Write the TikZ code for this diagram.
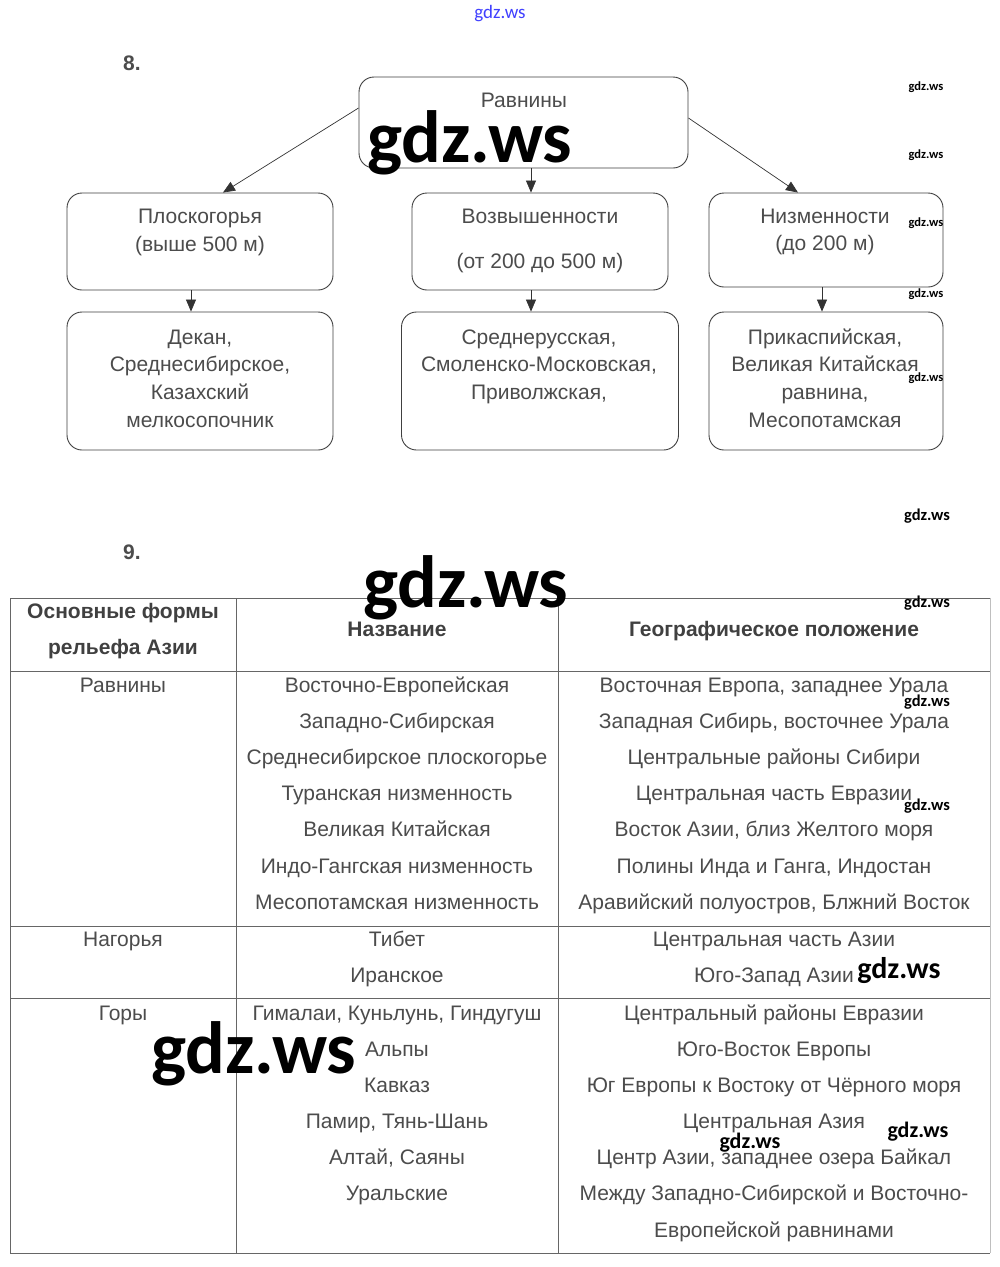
\documentclass[tikz,border=0pt]{standalone}
\usepackage{fontspec}
\setmainfont{Liberation Sans}
\newfontfamily\wmfont{Carlito}
\usetikzlibrary{arrows.meta}
\begin{document}
\begin{tikzpicture}[x=1pt,y=-1pt,
  box/.style={draw=black!75, line width=0.9pt, rounded corners=15pt, inner sep=0pt},
  arr/.style={draw=black!80, line width=0.7pt, -{Triangle[length=12pt,width=10pt]}},
  txt/.style={anchor=base, font=\fontsize{21}{25}\selectfont, text=black!70, inner sep=0pt},
  hdr/.style={anchor=base, font=\bfseries\fontsize{21}{25}\selectfont, text=black!75, inner sep=0pt},
  tline/.style={draw=black!60, line width=1pt},
  wm/.style={anchor=base, inner sep=0pt, text=black, font=\wmfont\bfseries\fontsize{#1}{#1}\selectfont},
]
\useasboundingbox[fill=white] (0,0) rectangle (1000,1267);

% numbers
\node[hdr, text=black!70] (n8) at (132,70) {8.};
\node[hdr, text=black!70] (n9) at (132,559) {9.};

% flowchart boxes
\node[box, minimum width=329pt, minimum height=91pt] (rav) at (523.5,122.5) {};
\node[box, minimum width=266pt, minimum height=97pt] (plo) at (200,241.5) {};
\node[box, minimum width=256pt, minimum height=97pt] (vozv) at (540,241.5) {};
\node[box, minimum width=234pt, minimum height=94pt] (nizm) at (826,240) {};
\node[box, minimum width=266pt, minimum height=138pt] (dek) at (200,381) {};
\node[box, minimum width=277pt, minimum height=138pt] (sred) at (540,381) {};
\node[box, minimum width=234pt, minimum height=138pt] (prik) at (826,381) {};

% arrows
\draw[arr] ([yshift=14.5pt]rav.west) -- ([xshift=23pt]plo.north);
\draw[arr] ([xshift=7.5pt]rav.south) -- ([xshift=-9pt]vozv.north);
\draw[arr] ([yshift=4.5pt]rav.east) -- ([xshift=-28pt]nizm.north);
\draw[arr] ([xshift=-9pt]plo.south) -- ([xshift=-9pt]dek.north);
\draw[arr] ([xshift=-9pt]vozv.south) -- ([xshift=-9pt]sred.north);
\draw[arr] ([xshift=-4pt]nizm.south) -- ([xshift=-4pt]prik.north);

% flowchart texts
\node[txt] (trav) at (524,107) {Равнины};
\node[txt] (tplo1) at (200,223) {Плоскогорья};
\node[txt] (tplo2) at (200,251) {(выше 500 м)};
\node[txt] (tvoz1) at (540,223) {Возвышенности};
\node[txt] (tvoz2) at (540,268) {(от 200 до 500 м)};
\node[txt] (tniz1) at (825,223) {Низменности};
\node[txt] (tniz2) at (825,250) {(до 200 м)};
\node[txt] (tdek1) at (200,344) {Декан,};
\node[txt] (tdek2) at (200,371) {Среднесибирское,};
\node[txt] (tdek3) at (200,399) {Казахский};
\node[txt] (tdek4) at (200,427) {мелкосопочник};
\node[txt] (tsr1) at (539,344) {Среднерусская,};
\node[txt] (tsr2) at (539,371) {Смоленско-Московская,};
\node[txt] (tsr3) at (539,399) {Приволжская,};
\node[txt] (tpr1) at (825,344) {Прикаспийская,};
\node[txt] (tpr2) at (825,371) {Великая Китайская};
\node[txt] (tpr3) at (825,399) {равнина,};
\node[txt] (tpr4) at (825,427) {Месопотамская};

% table lines
\draw[tline] (10,598) -- (990,598);
\draw[tline] (10,671) -- (990,671);
\draw[tline] (10,926) -- (990,926);
\draw[tline] (10,998) -- (990,998);
\draw[tline] (10,1253) -- (990,1253);
\draw[tline] (10,598) -- (10,1253);
\draw[tline] (236,598) -- (236,1253);
\draw[tline] (558,598) -- (558,1253);
\draw[draw=black!25, line width=1pt] (990,598) -- (990,1253);

% table header
\node[hdr] (h1a) at (123,618) {Основные формы};
\node[hdr] (h1b) at (123,654) {рельефа Азии};
\node[hdr] (h2) at (397,636) {Название};
\node[hdr] (h3) at (774,636) {Географическое положение};

% rows
\node[txt] (r1a) at (123,692) {Равнины};
\node[txt] (r1b) at (397,692) {Восточно-Европейская};
\node[txt] (r1c) at (774,692) {Восточная Европа, западнее Урала};
\node[txt] (r2b) at (397,728) {Западно-Сибирская};
\node[txt] (r2c) at (774,728) {Западная Сибирь, восточнее Урала};
\node[txt] (r3b) at (397,764) {Среднесибирское плоскогорье};
\node[txt] (r3c) at (774,764) {Центральные районы Сибири};
\node[txt] (r4b) at (397,800) {Туранская низменность};
\node[txt] (r4c) at (774,800) {Центральная часть Евразии};
\node[txt] (r5b) at (397,836) {Великая Китайская};
\node[txt] (r5c) at (774,836) {Восток Азии, близ Желтого моря};
\node[txt] (r6b) at (397,873) {Индо-Гангская низменность};
\node[txt] (r6c) at (774,873) {Полины Инда и Ганга, Индостан};
\node[txt] (r7b) at (397,909) {Месопотамская низменность};
\node[txt] (r7c) at (774,909) {Аравийский полуостров, Блжний Восток};

\node[txt] (s1a) at (123,946) {Нагорья};
\node[txt] (s1b) at (397,946) {Тибет};
\node[txt] (s1c) at (774,946) {Центральная часть Азии};
\node[txt] (s2b) at (397,982) {Иранское};
\node[txt] (s2c) at (774,982) {Юго-Запад Азии};

\node[txt] (g1a) at (123,1020) {Горы};
\node[txt] (g1b) at (397,1020) {Гималаи, Куньлунь, Гиндугуш};
\node[txt] (g1c) at (774,1020) {Центральный районы Евразии};
\node[txt] (g2b) at (397,1056) {Альпы};
\node[txt] (g2c) at (774,1056) {Юго-Восток Европы};
\node[txt] (g3b) at (397,1092) {Кавказ};
\node[txt] (g3c) at (774,1092) {Юг Европы к Востоку от Чёрного моря};
\node[txt] (g4b) at (397,1128) {Памир, Тянь-Шань};
\node[txt] (g4c) at (774,1128) {Центральная Азия};
\node[txt] (g5b) at (397,1164) {Алтай, Саяны};
\node[txt] (g5c) at (774,1164) {Центр Азии, западнее озера Байкал};
\node[txt] (g6b) at (397,1200) {Уральские};
\node[txt] (g6c) at (774,1200) {Между Западно-Сибирской и Восточно-};
\node[txt] (g7c) at (774,1237) {Европейской равнинами};

% watermarks
\node[anchor=base, inner sep=0pt, text=blue!75, font=\wmfont\fontsize{19}{19}\selectfont] (w0) at (500,18) {gdz.ws};
\node[wm=74] (w1) at (470,162) {gdz.ws};
\node[wm=74] (w2) at (466,607) {gdz.ws};
\node[wm=74] (w3) at (254,1073) {gdz.ws};
\node[wm=12.5] (w4) at (926,90) {gdz.ws};
\node[wm=12.5] (w5) at (926,158) {gdz.ws};
\node[wm=12.5] (w6) at (926,226) {gdz.ws};
\node[wm=12.5] (w7) at (926,297) {gdz.ws};
\node[wm=12.5] (w8) at (926,381) {gdz.ws};
\node[wm=16.5] (w9) at (927,520) {gdz.ws};
\node[wm=16.5] (w10) at (927,607) {gdz.ws};
\node[wm=16.5] (w11) at (927,706) {gdz.ws};
\node[wm=16.5] (w12) at (927,810) {gdz.ws};
\node[wm=30] (w13) at (899,978) {gdz.ws};
\node[wm=22] (w14) at (918,1137) {gdz.ws};
\node[wm=22] (w15) at (750,1148) {gdz.ws};
\end{tikzpicture}
\end{document}
